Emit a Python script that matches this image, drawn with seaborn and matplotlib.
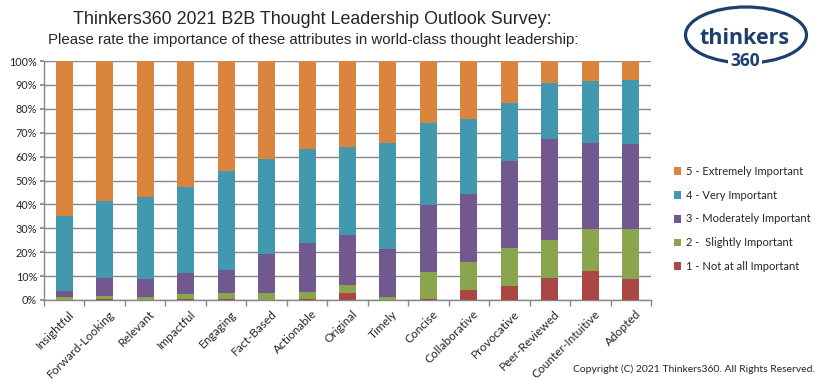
import matplotlib
matplotlib.use("Agg")
import matplotlib.pyplot as plt
from matplotlib.patches import Ellipse, Patch
from matplotlib.ticker import FixedLocator, FuncFormatter
import seaborn as sns
import pandas as pd
import numpy as np

attributes = ["Insightful", "Forward-Looking", "Relevant", "Impactful", "Engaging",
              "Fact-Based", "Actionable", "Original", "Timely", "Concise",
              "Collaborative", "Provocative", "Peer-Reviewed", "Counter-Intuitive", "Adopted"]

not_important = [0.0, 0.5, 0.0, 0.5, 0.5, 0.0, 0.6, 2.9, 0.0, 0.6, 4.2, 5.9, 9.2, 12.2, 8.8]
slightly = [1.3, 1.2, 1.3, 2.0, 2.4, 2.9, 2.8, 3.4, 1.3, 11.1, 11.7, 15.9, 15.9, 17.5, 20.9]
moderately = [2.6, 7.5, 7.5, 8.8, 9.8, 16.4, 20.5, 20.9, 20.1, 28.1, 28.5, 36.4, 42.4, 36.1, 35.7]
very = [31.4, 32.3, 34.4, 36.0, 41.1, 39.8, 39.4, 36.9, 44.1, 34.1, 31.4, 24.3, 23.4, 26.0, 26.8]
extremely = [64.7, 58.5, 56.8, 52.7, 46.2, 40.9, 36.7, 35.9, 34.5, 26.1, 24.2, 17.5, 9.1, 8.2, 7.8]

levels = ["1 - Not at all Important", "2 -  Slightly Important", "3 - Moderately Important",
          "4 - Very Important", "5 - Extremely Important"]
colors = ["#AA4643", "#89A54E", "#71588F", "#4198AF", "#DB843D"]
series = [not_important, slightly, moderately, very, extremely]

sns.set_theme(style="white")
plt.rcParams["font.family"] = ["Lato", "DejaVu Sans"]

rows = []
cum = np.zeros(len(attributes))
for lvl, vals in zip(levels, series):
    cum = cum + np.array(vals)
    for a, c in zip(attributes, cum):
        rows.append({"attribute": a, "level": lvl, "cum": c})
df = pd.DataFrame(rows)

fig = plt.figure(figsize=(8.25, 3.88), dpi=100)
ax = fig.add_axes([44 / 825, 1 - 300 / 388, (651 - 44) / 825, (300 - 61) / 388])

for lvl, col in reversed(list(zip(levels, colors))):
    sub = df[df["level"] == lvl]
    sns.barplot(data=sub, x="attribute", y="cum", color=col, saturation=1,
                width=0.42, errorbar=None, ax=ax, order=attributes, linewidth=0, zorder=3)

grid_c = "#868686"
ax.set_ylim(0, 100)
ax.set_xlim(-0.5, len(attributes) - 0.5)
ax.set_yticks(np.arange(0, 101, 10))
ax.yaxis.set_major_formatter(FuncFormatter(lambda v, p: f"{int(v)}%"))
ax.grid(axis="y", color=grid_c, linewidth=1.0, zorder=0)
ax.set_axisbelow(True)
for s in ["top", "right"]:
    ax.spines[s].set_visible(False)
for s in ["left", "bottom"]:
    ax.spines[s].set_color(grid_c)
    ax.spines[s].set_linewidth(1.0)
ax.set_xlabel("")
ax.set_ylabel("")
ax.tick_params(axis="y", length=3, color=grid_c, labelsize=7.8, pad=2, left=True)
ax.tick_params(axis="x", which="major", length=0, labelsize=8.6, pad=6)
ax.xaxis.set_minor_locator(FixedLocator(np.arange(-0.5, len(attributes), 1.0)))
ax.tick_params(axis="x", which="minor", length=4, color=grid_c, bottom=True, direction="out")
for lab in ax.get_xticklabels():
    lab.set_rotation(45)
    lab.set_ha("right")
    lab.set_rotation_mode("anchor")
    lab.set_x(lab.get_position()[0])
ax.set_xticks(np.arange(len(attributes)) + 0.1, minor=False)
ax.set_xticklabels(attributes, rotation=45, ha="right", rotation_mode="anchor")

handles = [Patch(facecolor=c, edgecolor="none", label=l) for l, c in zip(levels, colors)]
handles = handles[::-1]
fig.legend(handles=handles, loc="center left", bbox_to_anchor=(668 / 825, 1 - 219 / 388),
           frameon=False, fontsize=8, handlelength=0.7, handleheight=0.7,
           handletextpad=0.4, labelspacing=1.15, borderpad=0)

fig.text(312 / 825, 1 - 20 / 388, "Thinkers360 2021 B2B Thought Leadership Outlook Survey:",
         ha="center", va="center", fontsize=12.9, family=["Liberation Sans", "DejaVu Sans"])
fig.text(313 / 825, 1 - 40 / 388,
         "Please rate the importance of these attributes in world-class thought leadership:",
         ha="center", va="center", fontsize=10.8, family=["Liberation Sans", "DejaVu Sans"])

fig.text(815 / 825, 1 - 369 / 388, "Copyright (C) 2021 Thinkers360. All Rights Reserved.",
         ha="right", va="center", fontsize=7.5)

navy = "#1C3F6E"
ell = Ellipse((746 / 825, 1 - 35 / 388), 121 / 825, 56 / 388, transform=fig.transFigure,
              fill=False, edgecolor=navy, linewidth=2.3)
fig.add_artist(ell)
fig.text(745 / 825, 1 - 39 / 388, "thinkers", ha="center", va="center", fontsize=15.5,
         color=navy, family=["Open Sans", "DejaVu Sans"], weight="bold")
fig.text(745 / 825, 1 - 61 / 388, "360", ha="center", va="center", fontsize=12.5,
         color=navy, family=["Open Sans", "DejaVu Sans"], weight="bold",
         bbox=dict(facecolor="white", edgecolor="none", pad=1.5))

fig.savefig("out.png", dpi=100)
